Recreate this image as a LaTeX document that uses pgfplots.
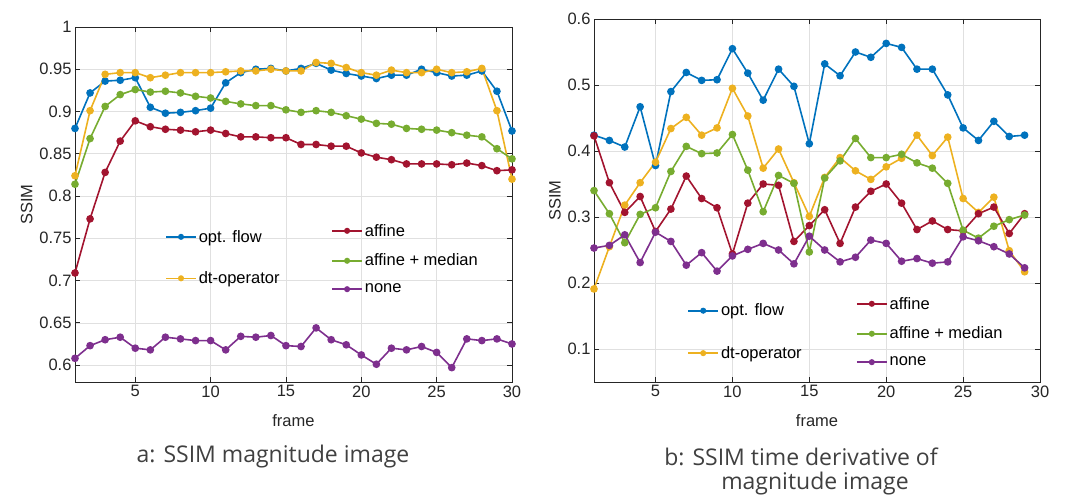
\documentclass[border=0pt]{standalone}
\usepackage{fontspec}
\setmainfont{Liberation Sans}
\newfontfamily\capfont{Open Sans}
\usepackage{pgfplots}
\usepackage{pgfplotstable}
\pgfplotsset{compat=1.18}

\definecolor{mblue}{rgb}{0,0.447,0.741}
\definecolor{myellow}{rgb}{0.929,0.694,0.125}
\definecolor{mgreen}{rgb}{0.466,0.674,0.188}
\definecolor{mred}{rgb}{0.635,0.078,0.184}
\definecolor{mpurple}{rgb}{0.494,0.184,0.556}
\definecolor{axgray}{rgb}{0.15,0.15,0.15}
\definecolor{gridgray}{rgb}{0.88,0.88,0.88}
\definecolor{capgray}{rgb}{0.25,0.25,0.25}

\pgfplotstableread{
f blue yellow red green purple
1 0.880 0.824 0.709 0.814 0.608
2 0.922 0.901 0.773 0.868 0.623
3 0.936 0.944 0.828 0.906 0.630
4 0.937 0.946 0.865 0.920 0.633
5 0.940 0.946 0.889 0.926 0.620
6 0.905 0.940 0.882 0.923 0.618
7 0.898 0.943 0.879 0.924 0.633
8 0.899 0.946 0.878 0.922 0.631
9 0.901 0.946 0.876 0.918 0.629
10 0.904 0.946 0.878 0.916 0.629
11 0.934 0.947 0.874 0.912 0.618
12 0.946 0.948 0.870 0.909 0.634
13 0.950 0.948 0.870 0.907 0.633
14 0.951 0.950 0.869 0.907 0.635
15 0.948 0.948 0.869 0.902 0.623
16 0.951 0.948 0.861 0.899 0.622
17 0.957 0.958 0.861 0.901 0.644
18 0.949 0.957 0.859 0.899 0.630
19 0.945 0.952 0.859 0.895 0.624
20 0.942 0.946 0.851 0.891 0.612
21 0.939 0.943 0.846 0.886 0.601
22 0.943 0.949 0.843 0.885 0.620
23 0.943 0.946 0.838 0.880 0.618
24 0.950 0.946 0.838 0.879 0.622
25 0.946 0.950 0.838 0.878 0.615
26 0.942 0.946 0.837 0.875 0.597
27 0.943 0.947 0.839 0.872 0.631
28 0.948 0.951 0.836 0.870 0.629
29 0.924 0.901 0.830 0.856 0.631
30 0.877 0.820 0.831 0.844 0.625
}\leftdata

\pgfplotstableread{
f blue yellow red green purple
1 0.424 0.191 0.423 0.340 0.253
2 0.416 0.255 0.352 0.305 0.257
3 0.406 0.318 0.307 0.261 0.273
4 0.467 0.352 0.331 0.304 0.231
5 0.378 0.383 0.278 0.314 0.277
6 0.490 0.434 0.312 0.369 0.263
7 0.519 0.451 0.362 0.407 0.227
8 0.507 0.424 0.328 0.396 0.246
9 0.508 0.435 0.314 0.397 0.218
10 0.555 0.495 0.244 0.425 0.241
11 0.518 0.453 0.321 0.371 0.251
12 0.477 0.374 0.350 0.308 0.260
13 0.524 0.403 0.348 0.363 0.250
14 0.498 0.352 0.263 0.351 0.229
15 0.411 0.301 0.287 0.247 0.271
16 0.532 0.360 0.311 0.359 0.250
17 0.514 0.390 0.260 0.385 0.232
18 0.550 0.370 0.315 0.419 0.239
19 0.542 0.357 0.339 0.390 0.265
20 0.563 0.376 0.350 0.390 0.260
21 0.557 0.389 0.321 0.395 0.233
22 0.524 0.424 0.281 0.382 0.237
23 0.524 0.393 0.294 0.374 0.230
24 0.485 0.421 0.281 0.351 0.232
25 0.435 0.328 0.279 0.280 0.270
26 0.416 0.307 0.305 0.268 0.264
27 0.445 0.330 0.315 0.286 0.255
28 0.422 0.249 0.275 0.296 0.244
29 0.424 0.217 0.305 0.303 0.223
}\rightdata

\pgfplotsset{
  common/.style={
    scale only axis,
    axis line style={axgray, line width=0.7pt},
    tick style={axgray, line width=0.7pt},
    major tick length=5pt,
    tick align=inside,
    xtick pos=both, ytick pos=both,
    tick label style={font=\fontsize{16.5}{19}\selectfont, text=axgray},
    label style={font=\fontsize{16.5}{19}\selectfont, text=axgray},
    /pgf/number format/assume math mode=true,
    xmin=1, xmax=30, xtick={5,10,15,20,25,30},
  },
  main/.style={common,
    grid=major, major grid style={gridgray, line width=0.6pt},
    xlabel={frame}, ylabel={SSIM},
    xlabel style={at={(axis description cs:0.5,0)}, anchor=center, yshift=-39pt},
  },
  leg/.style={scale only axis, hide axis, xmin=0, xmax=1, ymin=0, ymax=1,
    legend style={draw=none, fill=none, inner sep=0pt, anchor=north west,
      font=\fontsize{16.5}{19}\selectfont, cells={anchor=west}},
    legend image code/.code={\draw[mark repeat=2, mark phase=2, mark size=2.2pt] plot coordinates {(0pt,0pt) (15pt,0pt) (30pt,0pt)};},
  },
  sblue/.style={mblue, line width=1.6pt, mark=*, mark size=3pt},
  syellow/.style={myellow, line width=1.6pt, mark=*, mark size=3pt},
  sred/.style={mred, line width=1.6pt, mark=*, mark size=3pt},
  sgreen/.style={mgreen, line width=1.6pt, mark=*, mark size=3pt},
  spurple/.style={mpurple, line width=1.6pt, mark=*, mark size=3pt},
}

\begin{document}
\begin{tikzpicture}
\path[use as bounding box] (0pt,0pt) rectangle (1071pt,497pt);

% ---------- left plot ----------
\begin{axis}[main, at={(75pt,115pt)}, anchor=south west, width=437pt, height=355pt,
  ymin=0.58, ymax=1, ytick={0.6,0.65,0.7,0.75,0.8,0.85,0.9,0.95,1},
  yticklabels={0.6,0.65,0.7,0.75,0.8,0.85,0.9,0.95,1}]
\addplot[sblue] table[x=f,y=blue]{\leftdata};
\addplot[syellow] table[x=f,y=yellow]{\leftdata};
\addplot[sred] table[x=f,y=red]{\leftdata};
\addplot[sgreen] table[x=f,y=green]{\leftdata};
\addplot[spurple] table[x=f,y=purple]{\leftdata};
\end{axis}
\begin{axis}[leg, at={(75pt,115pt)}, anchor=south west, width=437pt, height=355pt,
  legend style={at={(0.206,0.434)}, row sep=24pt}]
\addlegendimage{sblue}\addlegendentry{opt. flow}
\addlegendimage{syellow}\addlegendentry{dt-operator}
\end{axis}
\begin{axis}[leg, at={(75pt,115pt)}, anchor=south west, width=437pt, height=355pt,
  legend style={at={(0.586,0.451)}, row sep=12.5pt}]
\addlegendimage{sred}\addlegendentry{affine}
\addlegendimage{sgreen}\addlegendentry{affine + median}
\addlegendimage{spurple}\addlegendentry{none}
\end{axis}

% ---------- right plot ----------
\begin{axis}[main, at={(594pt,115pt)}, anchor=south west, width=446pt, height=363pt,
  ymin=0.05, ymax=0.6, ytick={0.1,0.2,0.3,0.4,0.5,0.6},
  yticklabels={0.1,0.2,0.3,0.4,0.5,0.6}]
\addplot[sblue] table[x=f,y=blue]{\rightdata};
\addplot[syellow] table[x=f,y=yellow]{\rightdata};
\addplot[sred] table[x=f,y=red]{\rightdata};
\addplot[sgreen] table[x=f,y=green]{\rightdata};
\addplot[spurple] table[x=f,y=purple]{\rightdata};
\end{axis}
\begin{axis}[leg, at={(594pt,115pt)}, anchor=south west, width=446pt, height=363pt,
  legend style={at={(0.209,0.221)}, row sep=25pt}]
\addlegendimage{sblue}\addlegendentry{opt. flow}
\addlegendimage{syellow}\addlegendentry{dt-operator}
\end{axis}
\begin{axis}[leg, at={(594pt,115pt)}, anchor=south west, width=446pt, height=363pt,
  legend style={at={(0.587,0.240)}, row sep=12.5pt}]
\addlegendimage{sred}\addlegendentry{affine}
\addlegendimage{sgreen}\addlegendentry{affine + median}
\addlegendimage{spurple}\addlegendentry{none}
\end{axis}

% ---------- captions ----------
\node[font=\capfont\fontsize{23}{28}\selectfont, text=capgray] at (273pt,40pt) {a: SSIM magnitude image};
\node[font=\capfont\fontsize{23}{28}\selectfont, text=capgray] at (801pt,40pt) {b: SSIM time derivative of};
\node[font=\capfont\fontsize{23}{28}\selectfont, text=capgray] at (815pt,13pt) {magnitude image};
\end{tikzpicture}
\end{document}
